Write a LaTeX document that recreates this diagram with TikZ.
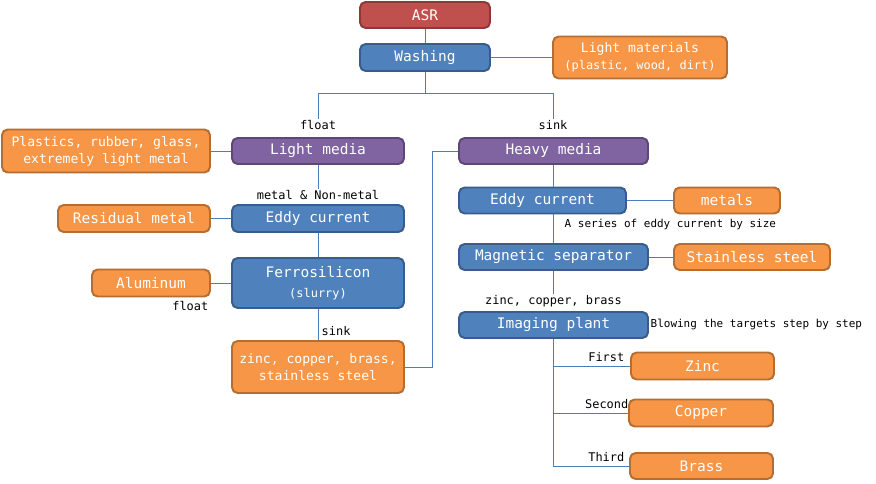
\documentclass[tikz,border=0pt]{standalone}
\usepackage{fontspec}
\setmonofont{DejaVu Sans Mono}

\definecolor{asrfill}{HTML}{C0504D}
\definecolor{asrline}{HTML}{8C3836}
\definecolor{stepfill}{HTML}{4F81BD}
\definecolor{stepline}{HTML}{385D8A}
\definecolor{mediafill}{HTML}{8064A2}
\definecolor{medialine}{HTML}{5C4776}
\definecolor{outfill}{HTML}{F79646}
\definecolor{outline}{HTML}{B66D31}
\definecolor{wirecol}{HTML}{4A7EBB}

\newcommand{\pxu}{0.025cm}
\newcommand{\fbig}{\fontsize{10.3}{12}\selectfont}
\newcommand{\fmid}{\fontsize{9.3}{12}\selectfont}
\newcommand{\fsmall}{\fontsize{8.5}{10}\selectfont}
\newcommand{\ftiny}{\fontsize{7.8}{9}\selectfont}

\tikzset{
  box/.style={rounded corners=4pt, line width=1.4pt, inner sep=0pt, text=white,
    align=center, font=\ttfamily\fbig},
  sz/.style 2 args={minimum width=#1*\pxu, minimum height=#2*\pxu},
  asrbox/.style={box, fill=asrfill, draw=asrline},
  stepbox/.style={box, fill=stepfill, draw=stepline},
  mediabox/.style={box, fill=mediafill, draw=medialine},
  outbox/.style={box, fill=outfill, draw=outline},
  lbl/.style={inner sep=1pt, font=\ttfamily\fsmall},
  wire/.style={draw=wirecol, line width=0.7pt}
}

\begin{document}
\begin{tikzpicture}[x=\pxu, y=-\pxu]
\useasboundingbox (0,0) rectangle (876,484);

\node[asrbox, sz={130}{26}] (asr) at (425,15) {ASR};
\node[stepbox, sz={130}{27}] (wash) at (425,57.5) {Washing};
\node[outbox, sz={174}{42}, font=\ttfamily\fmid] (lightmat) at (640,57.5)
  {Light materials\\{\fsmall(plastic, wood, dirt)}};

\node[lbl] (floatA) at (318,125) {float};
\node[lbl] (sinkA) at (553,125) {sink};

\node[outbox, sz={208}{43}, font=\ttfamily\fmid] (plastics) at (106,151)
  {Plastics, rubber, glass,\\extremely light metal};
\node[mediabox, sz={172}{26}] (lightmed) at (318,151) {Light media};
\node[lbl] (metnon) at (318,195) {metal \& Non-metal};
\node[outbox, sz={152}{27}] (resid) at (134,218.5) {Residual metal};
\node[stepbox, sz={172}{27}] (eddyL) at (318,218.5) {Eddy current};
\node[outbox, sz={118}{27}] (alum) at (151,283) {Aluminum};
\node[stepbox, sz={172}{50}, align=center] (ferro) at (318,283)
  {Ferrosilicon\\[2pt]{\fsmall(slurry)}};
\node[lbl, anchor=east] (floatB) at (210,306) {float};
\node[lbl, anchor=west] (sinkB) at (320,331) {sink};
\node[outbox, sz={172}{52}, font=\ttfamily\fmid] (zcbs) at (318,367)
  {zinc, copper, brass,\\stainless steel};

\node[mediabox, sz={189}{26}] (heavy) at (553.5,151) {Heavy media};
\node[stepbox, sz={167}{26}] (eddyR) at (542.5,200.5) {Eddy current};
\node[outbox, sz={106}{26}] (metals) at (727,200.5) {metals};
\node[lbl, font=\ttfamily\ftiny, anchor=west] (series) at (563,224)
  {A series of eddy current by size};
\node[stepbox, sz={189}{26}] (magsep) at (553.5,257) {Magnetic separator};
\node[outbox, sz={156}{26}] (stainless) at (752,257) {Stainless steel};
\node[lbl] (zcb) at (553.5,301) {zinc, copper, brass};
\node[stepbox, sz={189}{26}] (imaging) at (553.5,325) {Imaging plant};
\node[lbl, font=\ttfamily\ftiny, anchor=west] (blow) at (649,324)
  {Blowing the targets step by step};

\node[outbox, sz={143}{27}] (zinc) at (702.5,366) {Zinc};
\node[outbox, sz={144}{27}] (copper) at (701,413) {Copper};
\node[outbox, sz={143}{26}] (brass) at (701.5,466) {Brass};
\node[lbl, anchor=east] (first) at (626,357) {First};
\node[lbl, anchor=east] (second) at (630,404) {Second};
\node[lbl, anchor=east] (third) at (626,457) {Third};

\draw[wire] (asr) -- (wash);
\draw[wire] (wash) -- (lightmat);
\draw[wire] (wash.south) -- ++(0,22) coordinate (split);
\draw[wire] (split) -| (floatA.north);
\draw[wire] (split) -| (sinkA.north);

\draw[wire] (plastics) -- (lightmed);
\draw[wire] (lightmed) -- (metnon);
\draw[wire] (resid) -- (eddyL);
\draw[wire] (eddyL) -- (ferro);
\draw[wire] (alum) -- (ferro);
\draw[wire] (ferro) -- (zcbs);
\draw[wire] (zcbs.east) -- ++(28,0) |- (heavy.west);

\draw[wire] (heavy.south) -- (heavy.south |- eddyR.north);
\draw[wire] (eddyR) -- (metals);
\draw[wire] (magsep.north |- eddyR.south) -- (magsep.north);
\draw[wire] (magsep) -- (stainless);
\draw[wire] (magsep) -- (zcb);
\draw[wire] (imaging.south) |- (zinc.west);
\draw[wire] (imaging.south) |- (copper.west);
\draw[wire] (imaging.south) |- (brass.west);

\end{tikzpicture}
\end{document}
